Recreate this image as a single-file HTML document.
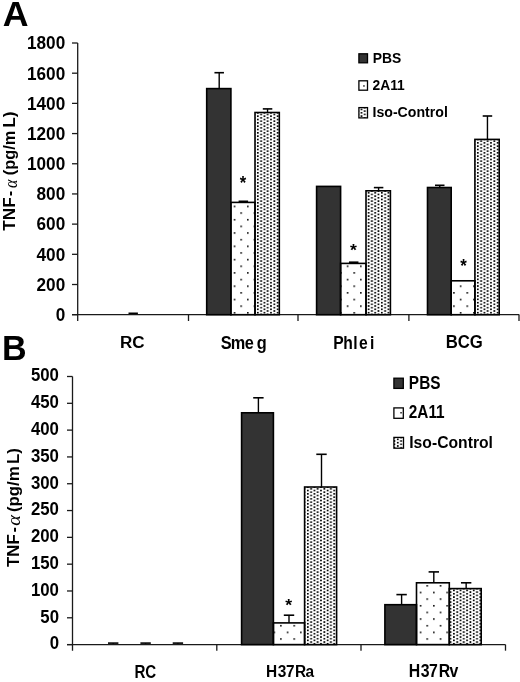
<!DOCTYPE html>
<html><head><meta charset="utf-8"><style>
html,body{margin:0;padding:0;background:#fff;}
body{width:520px;height:682px;overflow:hidden;}
svg{display:block;will-change:transform;}
text{font-family:"Liberation Sans",sans-serif;font-weight:bold;fill:#000;}
text.gr{font-family:"Liberation Serif",serif;font-weight:normal;font-style:italic;}
</style></head><body>
<svg width="520" height="682" viewBox="0 0 520 682">

<defs>
<pattern id="sparseA" patternUnits="userSpaceOnUse" x="233.70" y="205.60" width="13.3" height="13.3">
  <rect x="0" y="0" width="1.6" height="1.6" fill="#111"/>
  <rect x="6.65" y="6.65" width="1.6" height="1.6" fill="#111"/>
</pattern>
<pattern id="sparseB" patternUnits="userSpaceOnUse" x="280.10" y="624.90" width="13.3" height="13.3">
  <rect x="0" y="0" width="1.6" height="1.6" fill="#111"/>
  <rect x="6.65" y="6.65" width="1.6" height="1.6" fill="#111"/>
</pattern>
<pattern id="denseA" patternUnits="userSpaceOnUse" x="257.00" y="142.40" width="6.65" height="3.325">
  <rect x="0" y="0" width="1.7" height="1.7" fill="#000"/>
  <rect x="3.325" y="1.6625" width="1.7" height="1.7" fill="#000"/>
</pattern>
<pattern id="denseB" patternUnits="userSpaceOnUse" x="306.80" y="599.60" width="6.65" height="3.325">
  <rect x="0" y="0" width="1.7" height="1.7" fill="#000"/>
  <rect x="3.325" y="1.6625" width="1.7" height="1.7" fill="#000"/>
</pattern>
<pattern id="denseLegA" patternUnits="userSpaceOnUse" x="360.6" y="108.6" width="6.65" height="3.325">
  <rect x="0" y="0" width="1.7" height="1.7" fill="#000"/>
  <rect x="3.325" y="1.6625" width="1.7" height="1.7" fill="#000"/>
</pattern>
<pattern id="denseLegB" patternUnits="userSpaceOnUse" x="396.9" y="438.5" width="6.65" height="3.325">
  <rect x="0" y="0" width="1.7" height="1.7" fill="#000"/>
  <rect x="3.325" y="1.6625" width="1.7" height="1.7" fill="#000"/>
</pattern>
<pattern id="dA0" patternUnits="userSpaceOnUse" x="256.95" y="281.85" width="6.600" height="3.330"><rect x="0" y="0" width="1.7" height="1.7" fill="#000"/><rect x="3.300" y="1.665" width="1.7" height="1.7" fill="#000"/></pattern>
<pattern id="dA1" patternUnits="userSpaceOnUse" x="367.75" y="281.85" width="6.600" height="3.330"><rect x="0" y="0" width="1.7" height="1.7" fill="#000"/><rect x="3.300" y="1.665" width="1.7" height="1.7" fill="#000"/></pattern>
<pattern id="dA2" patternUnits="userSpaceOnUse" x="476.95" y="281.85" width="6.600" height="3.330"><rect x="0" y="0" width="1.7" height="1.7" fill="#000"/><rect x="3.300" y="1.665" width="1.7" height="1.7" fill="#000"/></pattern>
<pattern id="dB0" patternUnits="userSpaceOnUse" x="306.95" y="619.55" width="6.600" height="3.330"><rect x="0" y="0" width="1.7" height="1.7" fill="#000"/><rect x="3.300" y="1.665" width="1.7" height="1.7" fill="#000"/></pattern>
<pattern id="dB1" patternUnits="userSpaceOnUse" x="453.05" y="619.55" width="6.600" height="3.330"><rect x="0" y="0" width="1.7" height="1.7" fill="#000"/><rect x="3.300" y="1.665" width="1.7" height="1.7" fill="#000"/></pattern>
</defs>
<text transform="translate(2.81,26.20) scale(1.0128,1)" font-size="35.32" >A</text>
<text transform="translate(1.92,359.60) scale(0.9696,1)" font-size="35.18" >B</text>
<line x1="77.7" y1="43" x2="77.7" y2="321" stroke="#1a1a1a" stroke-width="1.3"/>
<line x1="72" y1="314.7" x2="519.3" y2="314.7" stroke="#1a1a1a" stroke-width="1.3"/>
<line x1="72" y1="314.70" x2="77.7" y2="314.70" stroke="#1a1a1a" stroke-width="1.3"/>
<text transform="translate(55.66,321.05) scale(0.975,1)" font-size="17.6">0</text>
<line x1="72" y1="284.51" x2="77.7" y2="284.51" stroke="#1a1a1a" stroke-width="1.3"/>
<text transform="translate(36.57,290.87) scale(0.975,1)" font-size="17.6">200</text>
<line x1="72" y1="254.32" x2="77.7" y2="254.32" stroke="#1a1a1a" stroke-width="1.3"/>
<text transform="translate(36.57,260.68) scale(0.975,1)" font-size="17.6">400</text>
<line x1="72" y1="224.13" x2="77.7" y2="224.13" stroke="#1a1a1a" stroke-width="1.3"/>
<text transform="translate(36.57,230.49) scale(0.975,1)" font-size="17.6">600</text>
<line x1="72" y1="193.94" x2="77.7" y2="193.94" stroke="#1a1a1a" stroke-width="1.3"/>
<text transform="translate(36.57,200.30) scale(0.975,1)" font-size="17.6">800</text>
<line x1="72" y1="163.76" x2="77.7" y2="163.76" stroke="#1a1a1a" stroke-width="1.3"/>
<text transform="translate(27.03,170.11) scale(0.975,1)" font-size="17.6">1000</text>
<line x1="72" y1="133.57" x2="77.7" y2="133.57" stroke="#1a1a1a" stroke-width="1.3"/>
<text transform="translate(27.03,139.92) scale(0.975,1)" font-size="17.6">1200</text>
<line x1="72" y1="103.38" x2="77.7" y2="103.38" stroke="#1a1a1a" stroke-width="1.3"/>
<text transform="translate(27.03,109.73) scale(0.975,1)" font-size="17.6">1400</text>
<line x1="72" y1="73.19" x2="77.7" y2="73.19" stroke="#1a1a1a" stroke-width="1.3"/>
<text transform="translate(27.03,79.54) scale(0.975,1)" font-size="17.6">1600</text>
<line x1="72" y1="43.00" x2="77.7" y2="43.00" stroke="#1a1a1a" stroke-width="1.3"/>
<text transform="translate(27.03,49.35) scale(0.975,1)" font-size="17.6">1800</text>
<line x1="188.5" y1="314.7" x2="188.5" y2="321" stroke="#1a1a1a" stroke-width="1.3"/>
<line x1="298.0" y1="314.7" x2="298.0" y2="321" stroke="#1a1a1a" stroke-width="1.3"/>
<line x1="408.9" y1="314.7" x2="408.9" y2="321" stroke="#1a1a1a" stroke-width="1.3"/>
<line x1="519.0" y1="314.7" x2="519.0" y2="321" stroke="#1a1a1a" stroke-width="1.3"/>
<rect x="206.70" y="88.60" width="24.20" height="226.10" fill="#333333" stroke="#000" stroke-width="1.6"/>
<rect x="230.90" y="202.40" width="24.10" height="112.30" fill="url(#sparseA)" stroke="#000" stroke-width="1.6"/>
<rect x="255.00" y="112.50" width="24.30" height="202.20" fill="url(#dA0)" stroke="#000" stroke-width="1.6"/>
<line x1="219.20" y1="88.60" x2="219.20" y2="72.70" stroke="#000" stroke-width="1.4"/><line x1="214.45" y1="72.70" x2="223.95" y2="72.70" stroke="#000" stroke-width="1.6"/>
<line x1="243.35" y1="202.40" x2="243.35" y2="201.30" stroke="#000" stroke-width="1.4"/><line x1="238.60" y1="201.30" x2="248.10" y2="201.30" stroke="#000" stroke-width="1.6"/>
<line x1="267.55" y1="112.50" x2="267.55" y2="108.90" stroke="#000" stroke-width="1.4"/><line x1="262.80" y1="108.90" x2="272.30" y2="108.90" stroke="#000" stroke-width="1.6"/>
<rect x="316.60" y="186.40" width="24.00" height="128.30" fill="#333333" stroke="#000" stroke-width="1.6"/>
<rect x="340.60" y="263.40" width="25.40" height="51.30" fill="url(#sparseA)" stroke="#000" stroke-width="1.6"/>
<rect x="366.00" y="190.80" width="24.40" height="123.90" fill="url(#dA1)" stroke="#000" stroke-width="1.6"/>
<line x1="353.70" y1="263.40" x2="353.70" y2="262.20" stroke="#000" stroke-width="1.4"/><line x1="348.95" y1="262.20" x2="358.45" y2="262.20" stroke="#000" stroke-width="1.6"/>
<line x1="378.60" y1="190.80" x2="378.60" y2="187.60" stroke="#000" stroke-width="1.4"/><line x1="373.85" y1="187.60" x2="383.35" y2="187.60" stroke="#000" stroke-width="1.6"/>
<rect x="427.50" y="187.50" width="23.70" height="127.20" fill="#333333" stroke="#000" stroke-width="1.6"/>
<rect x="451.20" y="280.80" width="23.70" height="33.90" fill="url(#sparseA)" stroke="#000" stroke-width="1.6"/>
<rect x="474.90" y="139.40" width="24.30" height="175.30" fill="url(#dA2)" stroke="#000" stroke-width="1.6"/>
<line x1="439.75" y1="187.50" x2="439.75" y2="185.30" stroke="#000" stroke-width="1.4"/><line x1="435.00" y1="185.30" x2="444.50" y2="185.30" stroke="#000" stroke-width="1.6"/>
<line x1="487.45" y1="139.40" x2="487.45" y2="116.00" stroke="#000" stroke-width="1.4"/><line x1="482.70" y1="116.00" x2="492.20" y2="116.00" stroke="#000" stroke-width="1.6"/>
<line x1="133.20" y1="314.00" x2="133.20" y2="313.30" stroke="#000" stroke-width="1.4"/><line x1="128.50" y1="313.30" x2="137.90" y2="313.30" stroke="#000" stroke-width="1.6"/>
<text transform="translate(239.75,189.11) scale(0.9363,1)" font-size="17.74">*</text>
<text transform="translate(350.05,256.35) scale(1.0422,1)" font-size="16.94">*</text>
<text transform="translate(460.15,271.91) scale(0.9510,1)" font-size="17.74">*</text>
<text transform="translate(120.06,348.00) scale(0.9933,1)" font-size="17.15" >RC</text>
<text transform="translate(0,348.50) scale(0.8700,1)" x="253.83 265.20 281.22 294.98" y="0" font-size="18.75">Smeg</text>
<text transform="translate(0,348.60) scale(0.8600,1)" x="387.39 399.08 410.82 417.31 430.12" y="0" font-size="18.22">Phlei</text>
<text transform="translate(445.68,348.30) scale(0.9203,1)" font-size="18.17" >BCG</text>
<rect x="358.9" y="53.8" width="8.6" height="9.0" fill="#333333" stroke="#000" stroke-width="1.3"/>
<rect x="358.9" y="80.8" width="8.6" height="9.4" fill="#fff" stroke="#000" stroke-width="1.3"/>
<rect x="363.2" y="85.2" width="1.5" height="1.5" fill="#222"/>
<rect x="358.9" y="107.6" width="8.6" height="10.3" fill="url(#denseLegA)" stroke="#000" stroke-width="1.3"/>
<text transform="translate(372.77,63.10) scale(0.9560,1)" font-size="14.54" >PBS</text>
<text transform="translate(372.52,90.00) scale(0.9329,1)" font-size="14.83" >2A11</text>
<text transform="translate(372.45,116.90) scale(0.9271,1)" font-size="15.26" >Iso-Control</text>
<text transform="translate(15.00,230.69) rotate(-90) scale(1.0016,1)" font-size="17.17" >TNF</text>
<text transform="translate(15.00,196.08) rotate(-90) scale(0.8718,1)" font-size="17.17" >-</text>
<text transform="translate(17.10,188.08) rotate(-90) scale(0.8434,1)" font-size="19.00" class="gr">α</text>
<text transform="translate(15.00,175.21) rotate(-90) scale(0.9530,1)" font-size="17.17" >(pg/m</text>
<text transform="translate(15.00,127.86) rotate(-90) scale(1.0141,1)" font-size="17.17" >L)</text>
<line x1="72.5" y1="376.5" x2="72.5" y2="650.7" stroke="#1a1a1a" stroke-width="1.3"/>
<line x1="67" y1="644.6" x2="505.5" y2="644.6" stroke="#1a1a1a" stroke-width="1.3"/>
<line x1="67" y1="644.60" x2="72.5" y2="644.60" stroke="#1a1a1a" stroke-width="1.3"/>
<text transform="translate(49.64,649.45) scale(0.955,1)" font-size="17.6">0</text>
<line x1="67" y1="617.79" x2="72.5" y2="617.79" stroke="#1a1a1a" stroke-width="1.3"/>
<text transform="translate(40.29,622.64) scale(0.955,1)" font-size="17.6">50</text>
<line x1="67" y1="590.98" x2="72.5" y2="590.98" stroke="#1a1a1a" stroke-width="1.3"/>
<text transform="translate(30.95,595.83) scale(0.955,1)" font-size="17.6">100</text>
<line x1="67" y1="564.17" x2="72.5" y2="564.17" stroke="#1a1a1a" stroke-width="1.3"/>
<text transform="translate(30.95,569.02) scale(0.955,1)" font-size="17.6">150</text>
<line x1="67" y1="537.36" x2="72.5" y2="537.36" stroke="#1a1a1a" stroke-width="1.3"/>
<text transform="translate(30.95,542.21) scale(0.955,1)" font-size="17.6">200</text>
<line x1="67" y1="510.55" x2="72.5" y2="510.55" stroke="#1a1a1a" stroke-width="1.3"/>
<text transform="translate(30.95,515.40) scale(0.955,1)" font-size="17.6">250</text>
<line x1="67" y1="483.74" x2="72.5" y2="483.74" stroke="#1a1a1a" stroke-width="1.3"/>
<text transform="translate(30.95,488.59) scale(0.955,1)" font-size="17.6">300</text>
<line x1="67" y1="456.93" x2="72.5" y2="456.93" stroke="#1a1a1a" stroke-width="1.3"/>
<text transform="translate(30.95,461.78) scale(0.955,1)" font-size="17.6">350</text>
<line x1="67" y1="430.12" x2="72.5" y2="430.12" stroke="#1a1a1a" stroke-width="1.3"/>
<text transform="translate(30.95,434.97) scale(0.955,1)" font-size="17.6">400</text>
<line x1="67" y1="403.31" x2="72.5" y2="403.31" stroke="#1a1a1a" stroke-width="1.3"/>
<text transform="translate(30.95,408.16) scale(0.955,1)" font-size="17.6">450</text>
<line x1="67" y1="376.50" x2="72.5" y2="376.50" stroke="#1a1a1a" stroke-width="1.3"/>
<text transform="translate(30.95,381.35) scale(0.955,1)" font-size="17.6">500</text>
<line x1="216.8" y1="644.6" x2="216.8" y2="650.7" stroke="#1a1a1a" stroke-width="1.3"/>
<line x1="361.0" y1="644.6" x2="361.0" y2="650.7" stroke="#1a1a1a" stroke-width="1.3"/>
<line x1="505.5" y1="644.6" x2="505.5" y2="650.7" stroke="#1a1a1a" stroke-width="1.3"/>
<rect x="241.60" y="412.80" width="31.80" height="231.80" fill="#333333" stroke="#000" stroke-width="1.6"/>
<rect x="273.40" y="622.90" width="31.20" height="21.70" fill="url(#sparseB)" stroke="#000" stroke-width="1.6"/>
<rect x="304.60" y="487.00" width="32.00" height="157.60" fill="url(#dB0)" stroke="#000" stroke-width="1.6"/>
<line x1="258.40" y1="412.80" x2="258.40" y2="397.80" stroke="#000" stroke-width="1.4"/><line x1="253.20" y1="397.80" x2="263.60" y2="397.80" stroke="#000" stroke-width="1.6"/>
<line x1="289.00" y1="622.90" x2="289.00" y2="615.20" stroke="#000" stroke-width="1.4"/><line x1="283.80" y1="615.20" x2="294.20" y2="615.20" stroke="#000" stroke-width="1.6"/>
<line x1="321.50" y1="487.00" x2="321.50" y2="454.30" stroke="#000" stroke-width="1.4"/><line x1="316.30" y1="454.30" x2="326.70" y2="454.30" stroke="#000" stroke-width="1.6"/>
<rect x="384.90" y="604.70" width="31.60" height="39.90" fill="#333333" stroke="#000" stroke-width="1.6"/>
<rect x="416.50" y="582.80" width="32.80" height="61.80" fill="url(#sparseB)" stroke="#000" stroke-width="1.6"/>
<rect x="449.30" y="588.60" width="31.90" height="56.00" fill="url(#dB1)" stroke="#000" stroke-width="1.6"/>
<line x1="401.60" y1="604.70" x2="401.60" y2="594.60" stroke="#000" stroke-width="1.4"/><line x1="396.40" y1="594.60" x2="406.80" y2="594.60" stroke="#000" stroke-width="1.6"/>
<line x1="433.80" y1="582.80" x2="433.80" y2="571.90" stroke="#000" stroke-width="1.4"/><line x1="428.60" y1="571.90" x2="439.00" y2="571.90" stroke="#000" stroke-width="1.6"/>
<line x1="466.15" y1="588.60" x2="466.15" y2="582.80" stroke="#000" stroke-width="1.4"/><line x1="460.95" y1="582.80" x2="471.35" y2="582.80" stroke="#000" stroke-width="1.6"/>
<line x1="113.20" y1="643.80" x2="113.20" y2="643.10" stroke="#000" stroke-width="1.4"/><line x1="108.00" y1="643.10" x2="118.40" y2="643.10" stroke="#000" stroke-width="1.6"/>
<line x1="145.60" y1="643.80" x2="145.60" y2="643.10" stroke="#000" stroke-width="1.4"/><line x1="140.40" y1="643.10" x2="150.80" y2="643.10" stroke="#000" stroke-width="1.6"/>
<line x1="177.90" y1="643.80" x2="177.90" y2="643.10" stroke="#000" stroke-width="1.4"/><line x1="172.70" y1="643.10" x2="183.10" y2="643.10" stroke="#000" stroke-width="1.6"/>
<text transform="translate(285.15,611.35) scale(1.0422,1)" font-size="16.94">*</text>
<text transform="translate(134.39,677.50) scale(0.8316,1)" font-size="18.17" >RC</text>
<text transform="translate(0,676.70) scale(0.9000,1)" x="295.52 308.50 317.71 327.74 339.50" y="0" font-size="17.15">H37Ra</text>
<text transform="translate(0,677.00) scale(0.9000,1)" x="454.16 467.49 476.69 487.60 499.49" y="0" font-size="17.59">H37Rv</text>
<rect x="393.9" y="378.2" width="9.4" height="10.2" fill="#333333" stroke="#000" stroke-width="1.3"/>
<rect x="393.9" y="407.9" width="9.4" height="10.4" fill="#fff" stroke="#000" stroke-width="1.3"/>
<rect x="400.3" y="412.0" width="1.5" height="1.5" fill="#222"/>
<rect x="393.9" y="437.4" width="9.6" height="10.8" fill="url(#denseLegB)" stroke="#000" stroke-width="1.3"/>
<text transform="translate(408.87,388.70) scale(0.8819,1)" font-size="17.44" >PBS</text>
<text transform="translate(408.77,418.30) scale(0.8743,1)" font-size="17.59" >2A11</text>
<text transform="translate(409.25,448.00) scale(0.9158,1)" font-size="17.15" >Iso-Control</text>
<text transform="translate(19.40,566.99) rotate(-90) scale(0.9957,1)" font-size="16.90" >TNF</text>
<text transform="translate(19.40,532.22) rotate(-90) scale(0.9323,1)" font-size="16.90" >-</text>
<text transform="translate(20.40,525.81) rotate(-90) scale(1.1399,1)" font-size="18.00" class="gr">α</text>
<text transform="translate(19.40,512.04) rotate(-90) scale(0.9955,1)" font-size="16.90" >(pg/m</text>
<text transform="translate(19.40,464.04) rotate(-90) scale(1.0088,1)" font-size="16.90" >L)</text>
</svg>
</body></html>
